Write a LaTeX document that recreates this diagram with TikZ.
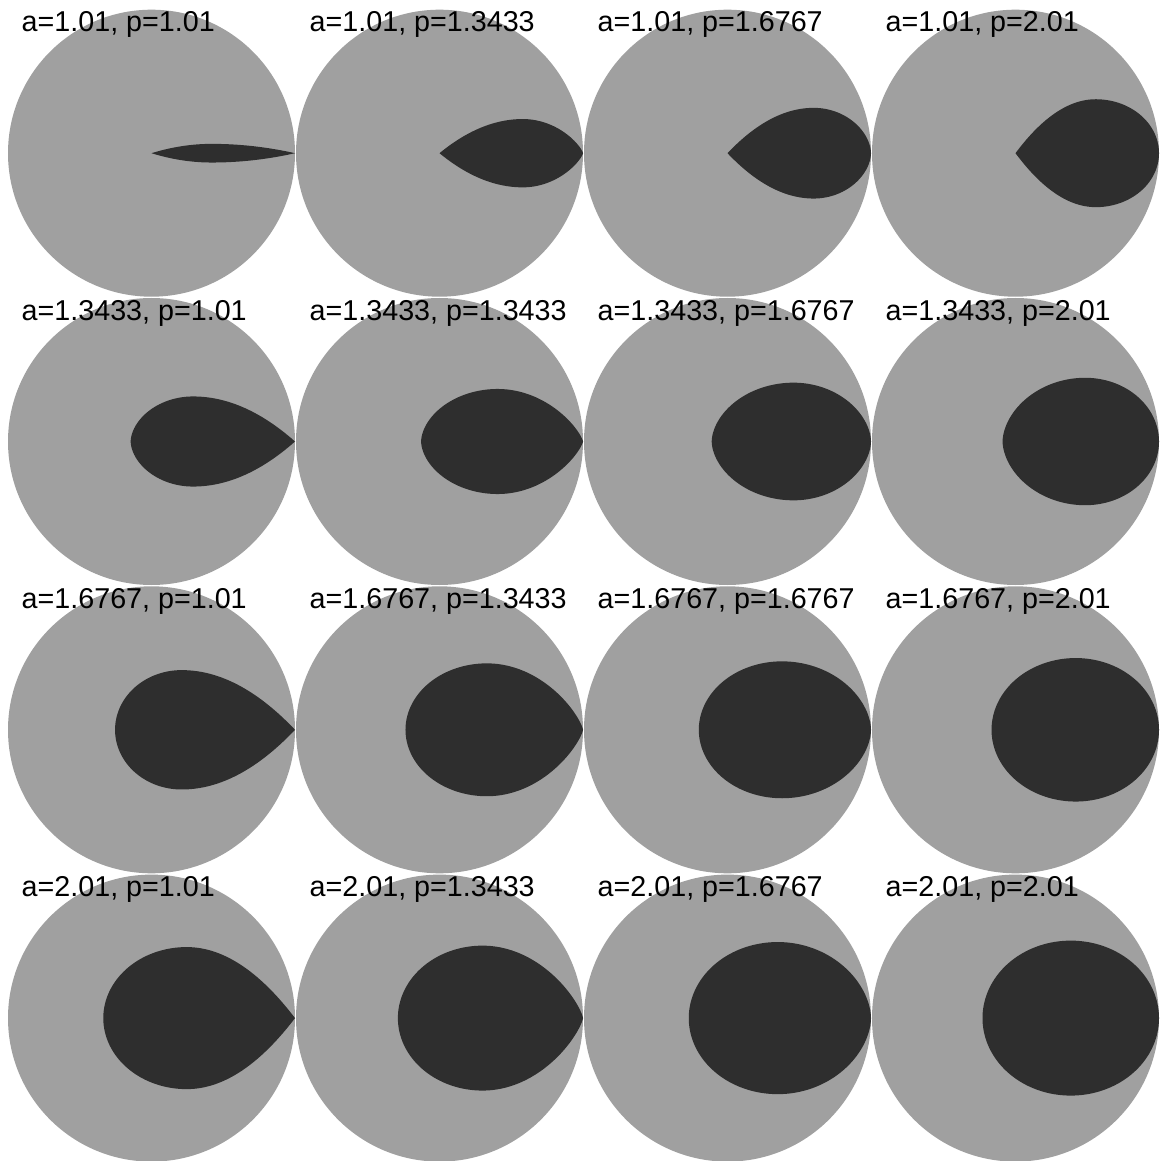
\documentclass[tikz,border=0pt]{standalone}
\usepackage{fontspec}
\setmainfont{Liberation Sans}
\definecolor{diskgrey}{RGB}{160,160,160}
\definecolor{blobdark}{RGB}{46,46,46}
\begin{document}
\begin{tikzpicture}[x=1pt,y=-1pt,
  lab/.style={font=\fontsize{28.7}{30}\selectfont, inner sep=0pt, anchor=base west, text=black},
  disk/.style={fill=diskgrey},
  blob/.style={fill=blobdark}]
\useasboundingbox (0,0) rectangle (1163,1161);
\fill[white] (0,0) rectangle (1163,1161);
% row/col/left exponent/right exponent/left end/x of max/half height
\foreach \r/\c/\nl/\nr/\xo/\xm/\H in {
  0/0/1.0/1.0/0/0.42/0.065,
  0/1/1.0/1.3/0/0.58/0.238,
  0/2/1.0/1.8/0/0.60/0.316,
  0/3/1.0/2.0/0/0.56/0.376,
  1/0/1.8/1.0/-0.145/0.29/0.314,
  1/1/1.8/1.3/-0.128/0.405/0.366,
  1/2/1.8/1.8/-0.11/0.46/0.41,
  1/3/1.8/2.0/-0.09/0.486/0.444,
  2/0/2.0/1.0/-0.254/0.21/0.416,
  2/1/2.0/1.3/-0.237/0.33/0.463,
  2/2/2.0/1.8/-0.2/0.38/0.477,
  2/3/2.0/2.0/-0.167/0.42/0.5,
  3/0/2.0/1.0/-0.336/0.245/0.495,
  3/1/2.0/1.3/-0.29/0.3/0.505,
  3/2/2.0/1.8/-0.27/0.35/0.53,
  3/3/2.0/2.0/-0.23/0.385/0.54}
{
  \pgfmathsetmacro\cx{151.5+288*\c}
  \pgfmathsetmacro\cy{153.2+288.3*\r}
  \fill[disk] (\cx,\cy) circle[radius=143.5];
  \begin{scope}[shift={(\cx,\cy)}, x=143.5pt, y=-143.5pt]
    \fill[blob]
      plot[domain=0:90, samples=70, variable=\t]
        ({\xm+(1-\xm)*sin(\t)}, {\H*pow(max(cos(\t),0.00001),2/\nr)})
      -- plot[domain=90:0, samples=70, variable=\t]
        ({\xm+(1-\xm)*sin(\t)}, {-\H*pow(max(cos(\t),0.00001),2/\nr)})
      -- plot[domain=0:90, samples=70, variable=\t]
        ({\xm-(\xm-\xo)*sin(\t)}, {-\H*pow(max(cos(\t),0.00001),2/\nl)})
      -- plot[domain=90:0, samples=70, variable=\t]
        ({\xm-(\xm-\xo)*sin(\t)}, {\H*pow(max(cos(\t),0.00001),2/\nl)})
      -- cycle;
  \end{scope}
}
\foreach \r/\a in {0/1.01, 1/1.3433, 2/1.6767, 3/2.01}{
  \foreach \c/\p in {0/1.01, 1/1.3433, 2/1.6767, 3/2.01}{
    \node[lab] (L\r\c) at ({21.5+288*\c},{31.7+288.3*\r}) {a=\a, p=\p};
  }
}
\end{tikzpicture}
\end{document}
